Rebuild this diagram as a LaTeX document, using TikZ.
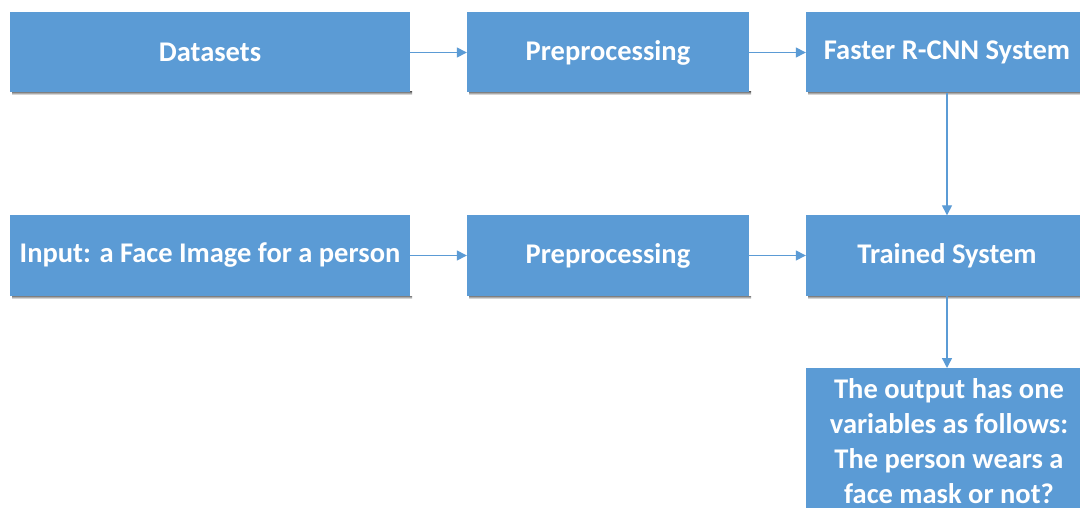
\documentclass[tikz,border=0pt]{standalone}
\usepackage{fontspec}
\setmainfont{Carlito}
\usetikzlibrary{arrows.meta}
\definecolor{boxblue}{HTML}{5B9BD5}
\definecolor{shade}{HTML}{E6EBF1}
\begin{document}
\begin{tikzpicture}[x=1pt,y=-1pt,
  boxfont/.style={font=\fontsize{28.5}{35}\selectfont\bfseries},
  stepbox/.style={fill=boxblue, draw=none, minimum width=282pt, minimum height=80pt,
    inner sep=0pt, text=white, boxfont, align=center},
  widebox/.style={stepbox, minimum width=400pt},
  flow/.style={draw=boxblue, line width=1.4pt, -{Triangle[length=10pt,width=10pt]}}]
  \useasboundingbox (0,0) rectangle (1080,508);
  \fill[white] (0,0) rectangle (1080,508);
  \clip (0,0) rectangle (1080,508);
  % soft shadows under the boxes
  \foreach \x/\w/\y in {10/400/92, 467/282/92, 806/282/92, 10/400/296, 467/282/296, 806/282/296}
    \fill[shade] (\x+2,\y) rectangle (\x+\w+2,\y+3);
  % first row
  \node[widebox] (data) at (210,52.5) {Datasets};
  \node[stepbox] (pre1) at (608,52.5) {Preprocessing};
  \node[stepbox] (frcnn) at (947,52.5) {Faster R-CNN System};
  % second row
  \node[widebox] (input) at (210,255.5) {Input: a Face Image for a person};
  \node[stepbox] (pre2) at (608,255.5) {Preprocessing};
  \node[stepbox] (trained) at (947,255.5) {Trained System};
  % output
  \node[stepbox, anchor=north, minimum height=150pt] (out) at (947,368) {};
  \node[text=white, boxfont, align=center, anchor=north, inner sep=0pt] (outtext) at (949,378)
    {The output has one\\variables as follows:\\The person wears a\\face mask or not?};
  % connectors
  \draw[flow] (data) -- (pre1);
  \draw[flow] (pre1) -- (frcnn);
  \draw[flow] (frcnn) -- (trained);
  \draw[flow] (input) -- (pre2);
  \draw[flow] (pre2) -- (trained);
  \draw[flow] (trained) -- (out);
\end{tikzpicture}
\end{document}
